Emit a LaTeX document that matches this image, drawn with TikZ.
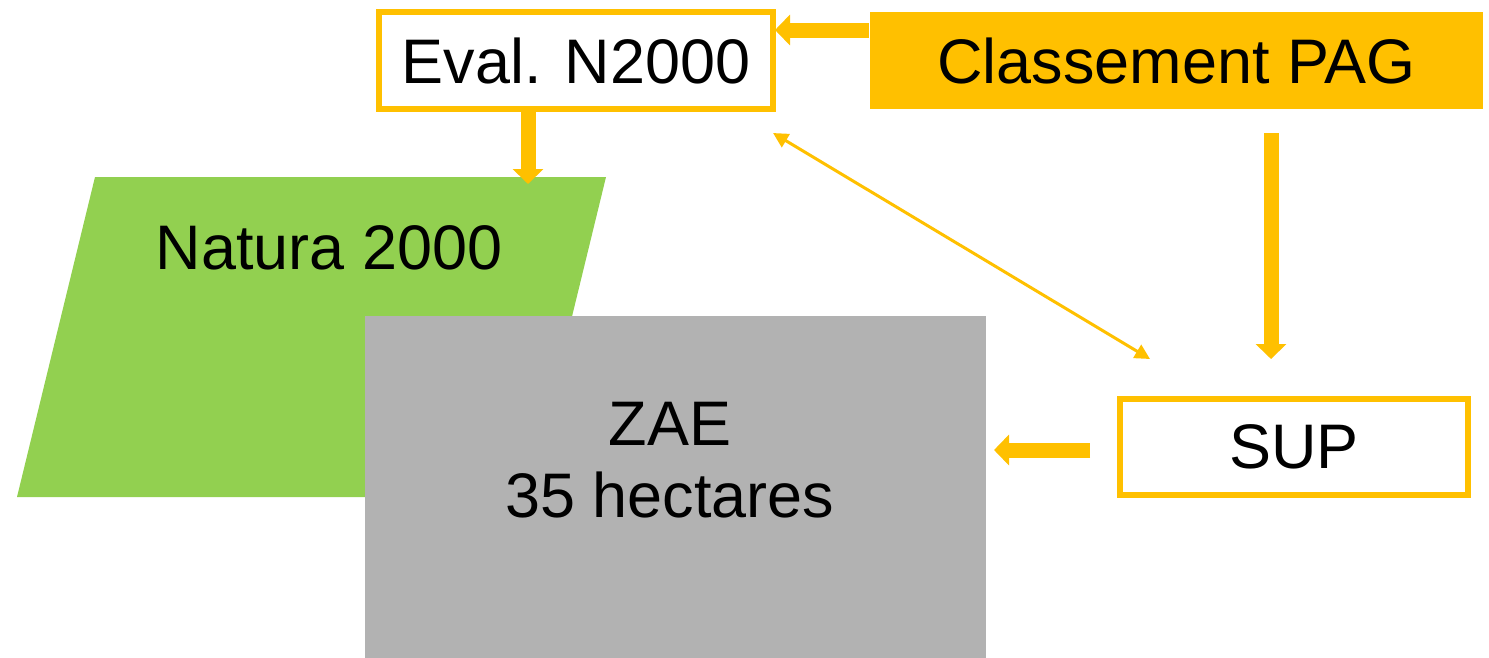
\documentclass[tikz,border=0pt]{standalone}
\usepackage{fontspec}
\setmainfont{Liberation Sans}
\usetikzlibrary{arrows.meta}
\definecolor{org}{HTML}{FFC000}
\definecolor{grn}{HTML}{92D050}
\definecolor{gry}{HTML}{B2B2B2}
\begin{document}
\begin{tikzpicture}[x=0.01cm,y=-0.01cm,
  lbl/.style={font=\fontsize{17.9}{20.5}\selectfont, text=black},
  obox/.style={lbl, draw=org, line width=0.06cm, fill=white, inner sep=0pt},
  bigarrow/.style={draw=org, line width=0.15cm, -{Triangle[length=0.15cm,width=0.3cm]}},
  thinarrow/.style={draw=org, line width=0.03cm, {Triangle[length=0.15cm,width=0.15cm]}-{Triangle[length=0.15cm,width=0.15cm]}}]
\useasboundingbox (0,0) rectangle (1489,657);
% Natura 2000 parallelogram
\fill[grn] (95,177) -- (606,177) -- (528,497) -- (17,497) -- cycle;
\node[lbl] (natura) at (329,248) {Natura 2000};
% ZAE
\node[fill=gry, minimum width=6.21cm, minimum height=3.42cm, inner sep=0pt, anchor=north west] (zae) at (364,315) {};
\node[lbl, align=center] (zaet) at (670,460) {ZAE\\35 hectares};
% arrow Eval -> Natura (drawn below the Eval box)
\coordinate (a2s) at (528,105);
\coordinate (a2e) at (528,184);
\draw[bigarrow] (a2s) -- (a2e);
% boxes
\node[obox, minimum width=3.94cm, minimum height=0.97cm] (eval) at (576,60.5) {Eval. N2000};
\node[lbl, fill=org, minimum width=6.13cm, minimum height=0.97cm, inner sep=0pt] (pag) at (1176.5,60.5) {Classement PAG};
\node[obox, minimum width=3.48cm, minimum height=0.96cm] (sup) at (1294,447) {SUP};
% arrow endpoints
\coordinate (a1s) at (pag.west |- 0,30);
\coordinate (a1e) at (775,30);
\coordinate (a4s) at (1271,133);
\coordinate (a4e) at (1271,359);
\coordinate (a5s) at (1090,450);
\coordinate (a5e) at (994,450);
\coordinate (t1) at (773,133);
\coordinate (t2) at (1150,359);
\draw[bigarrow] (a1s) -- (a1e);
\draw[bigarrow] (a4s) -- (a4e);
\draw[bigarrow] (a5s) -- (a5e);
\draw[thinarrow] (t1) -- (t2);
\end{tikzpicture}
\end{document}
